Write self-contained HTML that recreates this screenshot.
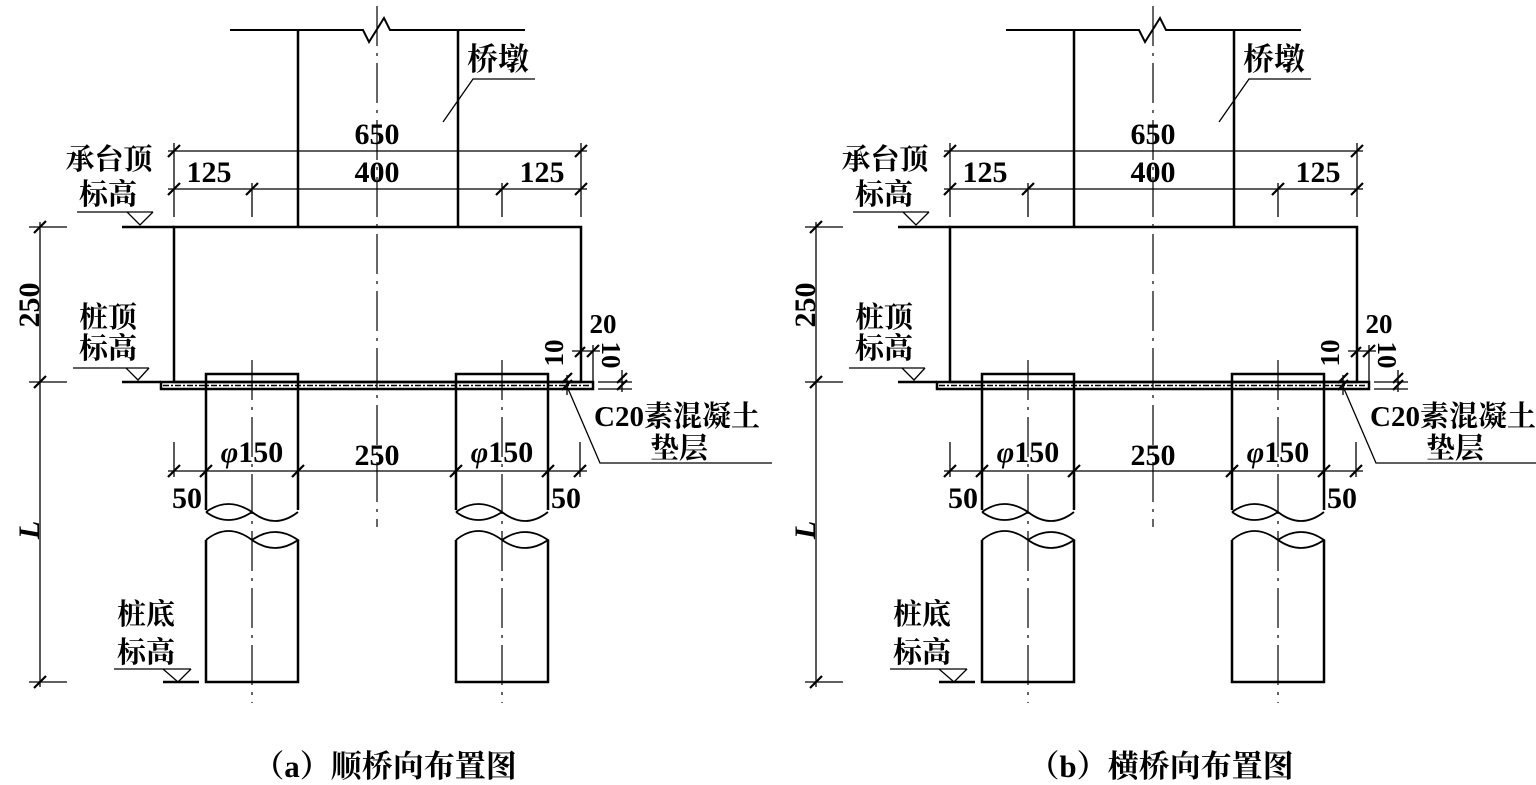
<!DOCTYPE html>
<html><head><meta charset="utf-8"><style>
html,body{margin:0;padding:0;background:#fff;}
svg{display:block;}
text{font-family:"Liberation Serif","Noto Serif CJK SC",serif;fill:#000;}
</style></head><body>
<svg width="1536" height="785" viewBox="0 0 1536 785" xmlns="http://www.w3.org/2000/svg">
<defs>
<g id="d">
 <g stroke="#000" fill="none">
  <polyline stroke-width="2" points="230,30 363,30 369,42 384,18 390,30 525,30"/>
  <line x1="298" y1="30" x2="298" y2="227" stroke-width="2.5"/>
  <line x1="458" y1="30" x2="458" y2="227" stroke-width="2.5"/>
  <rect x="174" y="227" width="407" height="155" stroke-width="2.5"/>
  <line x1="122" y1="227" x2="174" y2="227" stroke-width="2.5"/>
  <rect x="161" y="382" width="432" height="7" stroke-width="2.5"/>
  <line x1="163" y1="385.5" x2="591" y2="385.5" stroke-width="1.5" stroke-dasharray="6,2,2,2"/>
  <line x1="122" y1="382" x2="161" y2="382" stroke-width="2.5"/>
  <path d="M206,510 L206,374 L298,374 L298,510" stroke-width="2.5"/>
  <path d="M456,510 L456,374 L548,374 L548,510" stroke-width="2.5"/>
  <path d="M206,540 L206,682 L298,682 L298,540" stroke-width="2.5"/>
  <path d="M456,540 L456,682 L548,682 L548,540" stroke-width="2.5"/>
  <g stroke-width="1.8">
   <path d="M206,512 Q228,496 252,512 Q228,528 206,512 M252,512 Q275,530 298,512"/>
   <path d="M456,512 Q478,496 502,512 Q478,528 456,512 M502,512 Q525,530 548,512"/>
   <path d="M206,540 Q228,522 252,540 Q275,524 298,540 Q275,556 252,540"/>
   <path d="M456,540 Q478,522 502,540 Q525,524 548,540 Q525,556 502,540"/>
  </g>
  <g stroke-width="1.2" stroke-dasharray="40,7,3,7">
   <line x1="377" y1="6" x2="377" y2="527"/>
   <line x1="252" y1="360" x2="252" y2="703"/>
   <line x1="502" y1="360" x2="502" y2="703"/>
  </g>
  <g stroke-width="1.3">
   <line x1="168" y1="151" x2="587" y2="151"/>
   <line x1="168" y1="189" x2="587" y2="189"/>
   <line x1="174" y1="143" x2="174" y2="217"/>
   <line x1="581" y1="143" x2="581" y2="217"/>
   <line x1="252" y1="183" x2="252" y2="217"/>
   <line x1="502" y1="183" x2="502" y2="217"/>
   <line x1="40" y1="222" x2="40" y2="687"/>
   <line x1="29" y1="227" x2="67" y2="227"/>
   <line x1="29" y1="382" x2="67" y2="382"/>
   <line x1="29" y1="682" x2="67" y2="682"/>
   <line x1="168" y1="471" x2="587" y2="471"/>
   <line x1="174" y1="442" x2="174" y2="477"/>
   <line x1="580" y1="442" x2="580" y2="477"/>
   <line x1="572" y1="351" x2="600" y2="351"/>
   <line x1="593" y1="345" x2="593" y2="382"/>
   <line x1="598" y1="382" x2="632" y2="382"/>
   <line x1="598" y1="389" x2="632" y2="389"/>
   <line x1="622" y1="370" x2="622" y2="392"/>
   <line x1="567" y1="375" x2="567" y2="395"/>
   <polyline points="443,122 473,79 535,79"/>
   <polyline points="566,384 600,463 772,463"/>
   <polyline points="77,212 153,212"/>
   <polyline points="127,212 140,225 153,212"/>
   <polyline points="73,368 149,368"/>
   <polyline points="126,368 138,380 149,368"/>
   <polyline points="114,669 191,669"/>
   <polyline points="163,669 178,682 191,669"/>
   <line x1="163" y1="682" x2="199" y2="682" stroke-width="2.5"/>
  </g>
  <g stroke-width="2.2">
   <path d="M168,157 l12,-12 M575,157 l12,-12 M168,195 l12,-12 M246,195 l12,-12 M496,195 l12,-12 M575,195 l12,-12
            M34,233 l12,-12 M34,388 l12,-12 M34,688 l12,-12
            M168,477 l12,-12 M200,477 l12,-12 M292,477 l12,-12 M450,477 l12,-12 M542,477 l12,-12 M574,477 l12,-12
            M587,357 l12,-12 M575,357 l10,-10 M562,390 l10,-10 M562,383 l10,-10 M617,390 l10,-10 M617,383 l10,-10"/>
  </g>
 </g>
 <g font-size="30" font-weight="bold">
  <text x="377" y="144" text-anchor="middle">650</text>
  <text x="377" y="182" text-anchor="middle">400</text>
  <text x="209" y="182" text-anchor="middle">125</text>
  <text x="542" y="182" text-anchor="middle">125</text>
  <text x="252" y="462" text-anchor="middle"><tspan font-style="italic">φ</tspan>150</text>
  <text x="377" y="465" text-anchor="middle">250</text>
  <text x="502" y="462" text-anchor="middle"><tspan font-style="italic">φ</tspan>150</text>
  <text x="187" y="508" text-anchor="middle">50</text>
  <text x="566" y="508" text-anchor="middle">50</text>
  <text x="603" y="333" text-anchor="middle" font-size="27">20</text>
  <text transform="translate(563,353) rotate(-90)" text-anchor="middle" font-size="27">10</text>
  <text transform="translate(602,355) rotate(90)" text-anchor="middle" font-size="27">10</text>
  <text transform="translate(39,305) rotate(-90)" text-anchor="middle">250</text>
  <text transform="translate(39,530) rotate(-90)" text-anchor="middle" font-style="italic">L</text>
  <text x="498" y="70" text-anchor="middle" font-size="31">桥墩</text>
  <text x="109" y="169" text-anchor="middle" font-size="29">承台顶</text>
  <text x="108" y="204" text-anchor="middle" font-size="29">标高</text>
  <text x="108" y="327" text-anchor="middle" font-size="29">桩顶</text>
  <text x="108" y="358" text-anchor="middle" font-size="29">标高</text>
  <text x="146" y="624" text-anchor="middle" font-size="29">桩底</text>
  <text x="146" y="662" text-anchor="middle" font-size="29">标高</text>
  <text x="677" y="426" text-anchor="middle" font-size="29">C20素混凝土</text>
  <text x="679" y="458" text-anchor="middle" font-size="29">垫层</text>
 </g>
</g>
</defs>
<use href="#d"/>
<use href="#d" transform="translate(776,0)"/>
<text x="385" y="777" text-anchor="middle" font-size="31" font-weight="bold">（a）顺桥向布置图</text>
<text x="1161" y="777" text-anchor="middle" font-size="31" font-weight="bold">（b）横桥向布置图</text>
</svg>
</body></html>
